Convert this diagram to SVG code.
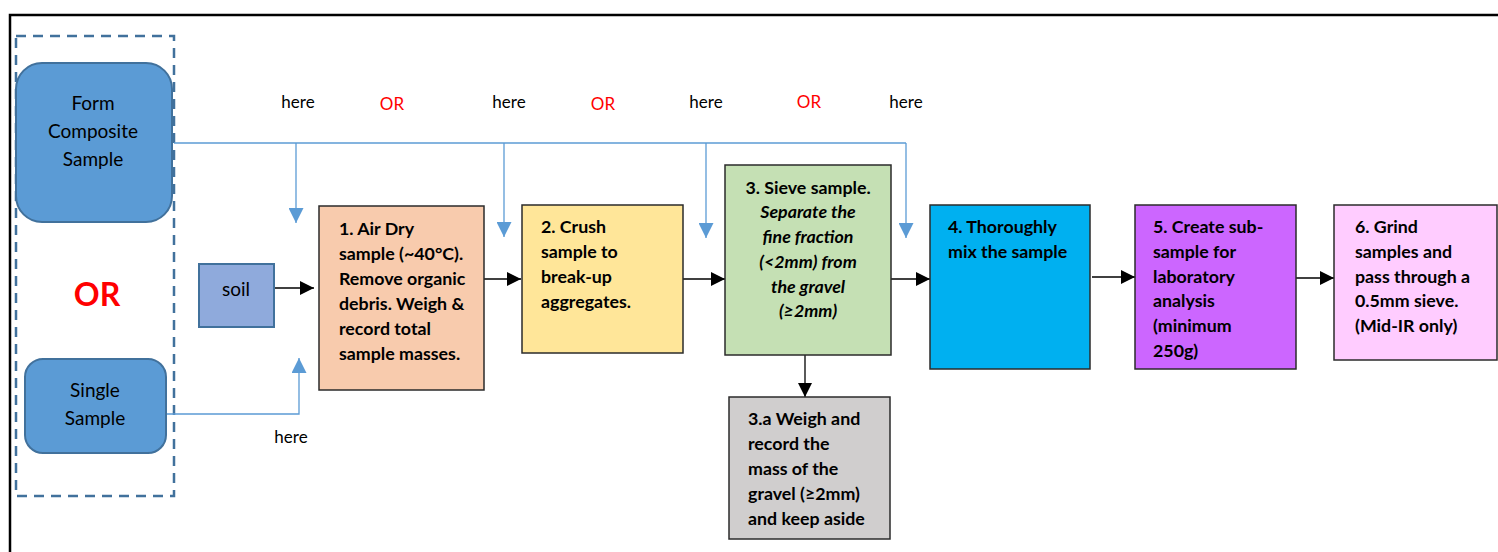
<svg xmlns="http://www.w3.org/2000/svg" width="1498" height="552" viewBox="0 0 1498 552">
<style>
.frame{fill:none;stroke:#000;stroke-width:2.5}
.dash{fill:none;stroke:#41719C;stroke-width:2.5;stroke-dasharray:10,7}
.src{fill:#5B9BD5;stroke:#41719C;stroke-width:2}
.box{stroke:#2b2b2b;stroke-width:1.5}
.t{font-family:Lato,"Liberation Sans",sans-serif;font-size:17.8px;font-weight:bold;fill:#000}
.it{font-style:italic}
.n{font-family:Lato,"Liberation Sans",sans-serif;font-size:19px;fill:#000}
.lbl{font-family:Lato,"Liberation Sans",sans-serif;font-size:17px;fill:#000}
.or{font-family:Lato,"Liberation Sans",sans-serif;font-size:17px;fill:#FF0000}
.blk{fill:none;stroke:#000;stroke-width:1.3}
.blu{fill:none;stroke:#5B9BD5;stroke-width:1.3}
</style>
<defs>
<marker id="ab" viewBox="0 0 10 10" refX="10" refY="5" markerWidth="14" markerHeight="14" markerUnits="userSpaceOnUse" orient="auto"><path d="M0,0 L10,5 L0,10 Z" fill="#000"/></marker>
<marker id="au" viewBox="0 0 10 10" refX="10" refY="5" markerWidth="15" markerHeight="15" markerUnits="userSpaceOnUse" orient="auto"><path d="M0,0 L10,5 L0,10 Z" fill="#5B9BD5"/></marker>
</defs>
<path class="frame" d="M10,552 V15 H1498"/>
<rect class="dash" x="16" y="36" width="158" height="460"/>
<text x="97" y="306" text-anchor="middle" style="font-family:Lato,'Liberation Sans',sans-serif;font-size:32px;font-weight:bold;fill:#FF0000">OR</text>

<g id="connectors">
<path class="blu" d="M174,143 H906"/>
<path class="blu" d="M296,143 V223" marker-end="url(#au)"/>
<path class="blu" d="M504,143 V237" marker-end="url(#au)"/>
<path class="blu" d="M706,143 V238" marker-end="url(#au)"/>
<path class="blu" d="M906,143 V238" marker-end="url(#au)"/>
<path class="blu" d="M166,414 H299 V358" marker-end="url(#au)"/>
<path class="blk" d="M274,288 H314" marker-end="url(#ab)"/>
<path class="blk" d="M484,279 H521" marker-end="url(#ab)"/>
<path class="blk" d="M683,279 H725" marker-end="url(#ab)"/>
<path class="blk" d="M891,279 H930" marker-end="url(#ab)"/>
<path class="blk" d="M805,355 V397" marker-end="url(#ab)"/>
<path class="blk" d="M1092,277 H1135" marker-end="url(#ab)"/>
<path class="blk" d="M1296,278 H1334" marker-end="url(#ab)"/>
</g>

<g id="labels">
<text class="lbl" x="298" y="108" text-anchor="middle">here</text>
<text class="or" x="392" y="110" text-anchor="middle">OR</text>
<text class="lbl" x="509" y="108" text-anchor="middle">here</text>
<text class="or" x="603" y="110" text-anchor="middle">OR</text>
<text class="lbl" x="706" y="108" text-anchor="middle">here</text>
<text class="or" x="809" y="108" text-anchor="middle">OR</text>
<text class="lbl" x="906" y="108" text-anchor="middle">here</text>
<text class="lbl" x="291" y="443" text-anchor="middle">here</text>
</g>

<g id="composite">
<rect class="src" x="16" y="63" width="156" height="159" rx="26"/>
<text class="n" x="93" y="110" text-anchor="middle">Form</text>
<text class="n" x="93" y="138" text-anchor="middle">Composite</text>
<text class="n" x="93" y="166" text-anchor="middle">Sample</text>
</g>
<g id="single">
<rect class="src" x="25" y="359" width="141" height="94" rx="18"/>
<text class="n" x="95" y="397" text-anchor="middle">Single</text>
<text class="n" x="95" y="425" text-anchor="middle">Sample</text>
</g>
<g id="soil">
<rect x="199" y="264" width="75" height="63" fill="#8FAADC" stroke="#41719C" stroke-width="2"/>
<text class="n" x="236" y="296" text-anchor="middle">soil</text>
</g>
<g id="step1">
<rect class="box" x="319" y="206" width="165" height="184" fill="#F8CBAD"/>
<text class="t" x="339" y="235">1. Air Dry</text>
<text class="t" x="339" y="260">sample (~40°C).</text>
<text class="t" x="339" y="285">Remove organic</text>
<text class="t" x="339" y="310">debris. Weigh &amp;</text>
<text class="t" x="339" y="335">record total</text>
<text class="t" x="339" y="360">sample masses.</text>
</g>
<g id="step2">
<rect class="box" x="522" y="205" width="161" height="148" fill="#FFE699"/>
<text class="t" x="541" y="233">2. Crush</text>
<text class="t" x="541" y="258">sample to</text>
<text class="t" x="541" y="283">break-up</text>
<text class="t" x="541" y="308">aggregates.</text>
</g>
<g id="step3">
<rect class="box" x="725" y="165" width="166" height="190" fill="#C5E0B4"/>
<text class="t" x="808" y="194" text-anchor="middle">3. Sieve sample.</text>
<text class="t it" x="808" y="218" text-anchor="middle">Separate the</text>
<text class="t it" x="808" y="243" text-anchor="middle">fine fraction</text>
<text class="t it" x="808" y="268" text-anchor="middle">(&lt;2mm) from</text>
<text class="t it" x="808" y="293" text-anchor="middle">the gravel</text>
<text class="t it" x="808" y="317" text-anchor="middle">(≥2mm)</text>
</g>
<g id="step3a">
<rect class="box" x="729" y="397" width="161" height="142" fill="#D0CECE"/>
<text class="t" x="748" y="425">3.a Weigh and</text>
<text class="t" x="748" y="450">record the</text>
<text class="t" x="748" y="475">mass of the</text>
<text class="t" x="748" y="500">gravel (≥2mm)</text>
<text class="t" x="748" y="525">and keep aside</text>
</g>
<g id="step4">
<rect class="box" x="930" y="205" width="160" height="164" fill="#00B0F0"/>
<text class="t" x="948" y="233">4. Thoroughly</text>
<text class="t" x="948" y="258">mix the sample</text>
</g>
<g id="step5">
<rect class="box" x="1135" y="205" width="161" height="164" fill="#CC66FF"/>
<text class="t" x="1153" y="233">5. Create sub-</text>
<text class="t" x="1153" y="258">sample for</text>
<text class="t" x="1153" y="283">laboratory</text>
<text class="t" x="1153" y="307">analysis</text>
<text class="t" x="1153" y="332">(minimum</text>
<text class="t" x="1153" y="357">250g)</text>
</g>
<g id="step6">
<rect class="box" x="1334" y="205" width="163" height="155" fill="#FFCCFF"/>
<text class="t" x="1355" y="233">6. Grind</text>
<text class="t" x="1355" y="258">samples and</text>
<text class="t" x="1355" y="283">pass through a</text>
<text class="t" x="1355" y="307">0.5mm sieve.</text>
<text class="t" x="1355" y="332">(Mid-IR only)</text>
</g>
</svg>
